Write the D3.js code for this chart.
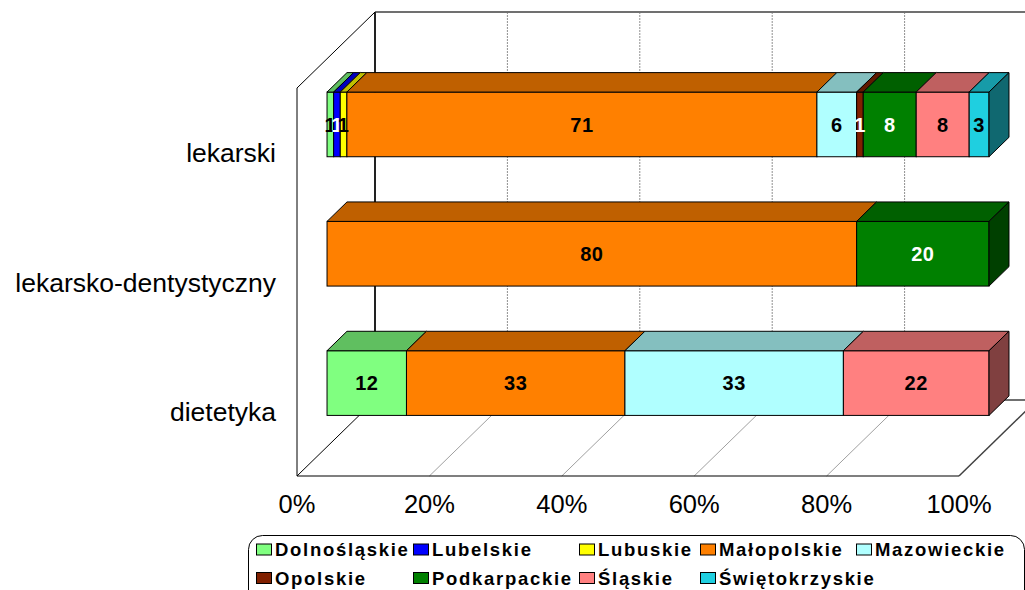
<!DOCTYPE html>
<html><head><meta charset="utf-8">
<script src="https://cdn.jsdelivr.net/npm/d3@7"></script>
<style>body{margin:0;background:#fff}svg{display:block}</style></head>
<body><svg id="c" width="1025" height="590"></svg>
<script>
const categories = ["lekarski", "lekarsko-dentystyczny", "dietetyka"];
const regions = ["Dolnośląskie","Lubelskie","Lubuskie","Małopolskie","Mazowieckie","Opolskie","Podkarpackie","Śląskie","Świętokrzyskie"];
const colors = ["#80FF80","#0000FF","#FFFF00","#FF8000","#B0FFFF","#802000","#008000","#FF8080","#1FCFE0"];
const lekarski = [1,1,1,71,6,1,8,8,3];
const lekarskoDentystyczny = [0,0,0,80,0,0,20,0,0];
const dietetyka = [12,0,0,33,33,0,0,22,0];
const ticks = [0,20,40,60,80,100];
const tickLabels = ["0%","20%","40%","60%","80%","100%"];

(function(){
const seriesByCat = [lekarski, lekarskoDentystyczny, dietetyka];

const svg = d3.select("#c");
const x = d3.scaleLinear().domain([0,100]).range([297,959]);
const y = d3.scaleBand().domain(categories).range([88,476]).padding(0);
const DX = 78, DY = -76;           // full depth offset
const f0 = 0.385, f1 = 0.641;      // bar front/back depth fractions
const FONT = "'Liberation Sans', Arial, sans-serif";
const yTop = y.range()[0], yBot = y.range()[1];

const P = pts => pts.map(p => p.join(",")).join(" ");

const g = svg.append("g");
// back wall gridlines
ticks.forEach((t,i) => {
  if (i === 0) return;
  g.append("line").attr("x1", x(t)+DX).attr("x2", x(t)+DX)
    .attr("y1", yTop+DY).attr("y2", yBot+DY)
    .attr("stroke", "#909090").attr("stroke-width", 1).attr("stroke-dasharray", "2,1");
});
// floor gridlines
ticks.forEach((t,i) => {
  if (i === 0 || i === ticks.length-1) return;
  g.append("line").attr("x1", x(t)).attr("y1", yBot)
    .attr("x2", x(t)+DX).attr("y2", yBot+DY)
    .attr("stroke", "#a0a0a0").attr("stroke-width", 1);
});
// back wall top
g.append("line").attr("x1", x(0)+DX).attr("x2", x(100)+DX).attr("y1", yTop+DY).attr("y2", yTop+DY)
  .attr("stroke", "#707070").attr("stroke-width", 2);
// floor back edge and right edge
g.append("line").attr("x1", x(0)+DX).attr("x2", x(100)+DX).attr("y1", yBot+DY).attr("y2", yBot+DY)
  .attr("stroke", "#404040").attr("stroke-width", 1.5);
g.append("line").attr("x1", x(100)).attr("y1", yBot).attr("x2", x(100)+DX).attr("y2", yBot+DY)
  .attr("stroke", "#404040").attr("stroke-width", 1.5);
// back wall left vertical
g.append("line").attr("x1", x(0)+DX).attr("x2", x(0)+DX).attr("y1", yTop+DY).attr("y2", yBot+DY)
  .attr("stroke", "#222").attr("stroke-width", 2);
// left wall
g.append("line").attr("x1", x(0)).attr("x2", x(0)).attr("y1", yTop).attr("y2", yBot)
  .attr("stroke", "#000").attr("stroke-width", 1);
g.append("line").attr("x1", x(0)).attr("y1", yTop).attr("x2", x(0)+DX).attr("y2", yTop+DY)
  .attr("stroke", "#000").attr("stroke-width", 1);
g.append("line").attr("x1", x(0)).attr("y1", yBot).attr("x2", x(0)+DX).attr("y2", yBot+DY)
  .attr("stroke", "#000").attr("stroke-width", 1);
// floor front edge
g.append("line").attr("x1", x(0)).attr("x2", x(100)).attr("y1", yBot).attr("y2", yBot)
  .attr("stroke", "#000").attr("stroke-width", 1.2);

// bars
const ox = DX*f0, oy = DY*f0;
const bdx = DX*(f1-f0), bdy = DY*(f1-f0);
const h = y.bandwidth()*0.5;
const bars = svg.append("g");
categories.forEach((cat, ci) => {
  const vals = seriesByCat[ci];
  const yt = y(cat) + (y.bandwidth()-h)/2 + oy + 1;
  const yb = yt + h;
  let cum = 0;
  const segs = [];
  vals.forEach((v, ri) => {
    if (v > 0) segs.push({v, ri, s: cum, e: cum + v});
    cum += v;
  });
  const total = cum;
  segs.forEach(sg => {
    const x0 = x(sg.s*100/total)+ox, x1 = x(sg.e*100/total)+ox;
    const c = d3.rgb(colors[sg.ri]);
    bars.append("rect").attr("x", x0).attr("y", yt).attr("width", x1-x0).attr("height", h)
      .attr("fill", c).attr("stroke", "#000").attr("stroke-width", 1);
    bars.append("polygon").attr("points", P([[x0,yt],[x1,yt],[x1+bdx,yt+bdy],[x0+bdx,yt+bdy]]))
      .attr("fill", d3.rgb(c.r*0.75, c.g*0.75, c.b*0.75)).attr("stroke", "#000").attr("stroke-width", 1)
      .attr("stroke-linejoin", "round");
  });
  const last = segs[segs.length-1];
  const xe = x(100)+ox;
  const lc = d3.rgb(colors[last.ri]);
  bars.append("polygon").attr("points", P([[xe,yt],[xe+bdx,yt+bdy],[xe+bdx,yb+bdy],[xe,yb]]))
    .attr("fill", d3.rgb(lc.r*0.5, lc.g*0.5, lc.b*0.5)).attr("stroke", "#000").attr("stroke-width", 1)
    .attr("stroke-linejoin", "round");
  segs.forEach(sg => {
    const xc = (x(sg.s*100/total) + x(sg.e*100/total))/2 + ox;
    const dark = d3.lab(colors[sg.ri]).l < 50;
    bars.append("text").attr("x", xc).attr("y", (yt+yb)/2).attr("dy", "0.36em")
      .attr("text-anchor", "middle").attr("font-family", FONT).attr("font-weight", "bold")
      .attr("font-size", 20).attr("letter-spacing", 0.5).attr("fill", dark ? "#fff" : "#000").text(sg.v);
  });
});

// category labels
svg.append("g").selectAll("text").data(categories).join("text")
  .attr("x", 276).attr("y", d => y(d) + y.bandwidth()/2).attr("dy", "0.36em")
  .attr("text-anchor", "end").attr("font-family", FONT).attr("font-size", 26.5).attr("fill", "#000")
  .text(d => d);

// tick labels
svg.append("g").selectAll("text").data(ticks).join("text")
  .attr("x", d => x(d)).attr("y", 513)
  .attr("text-anchor", "middle").attr("font-family", FONT).attr("font-size", 25.5).attr("fill", "#000")
  .text((d,i) => tickLabels[i]);

// legend
const lg = svg.append("g");
lg.append("rect").attr("x", 248.5).attr("y", 535.5).attr("width", 776).attr("height", 70).attr("rx", 14)
  .attr("fill", "#fff").attr("stroke", "#000").attr("stroke-width", 1);
const cols = [256, 413, 579, 700, 856];
const rows = [549.5, 578];
regions.forEach((r, i) => {
  const row = i < 5 ? 0 : 1;
  const col = i < 5 ? i : i - 5;
  const lx = cols[col], ly = rows[row];
  lg.append("rect").attr("x", lx+0.5).attr("y", ly-5.5).attr("width", 15).attr("height", 11)
    .attr("fill", colors[i]).attr("stroke", "#000").attr("stroke-width", 1);
  lg.append("text").attr("x", lx+19).attr("y", ly).attr("dy", "0.36em")
    .attr("font-family", FONT).attr("font-weight", "bold").attr("font-size", 18.5)
    .attr("letter-spacing", 1.7).attr("fill", "#000").text(r);
});
})();
</script></body></html>
